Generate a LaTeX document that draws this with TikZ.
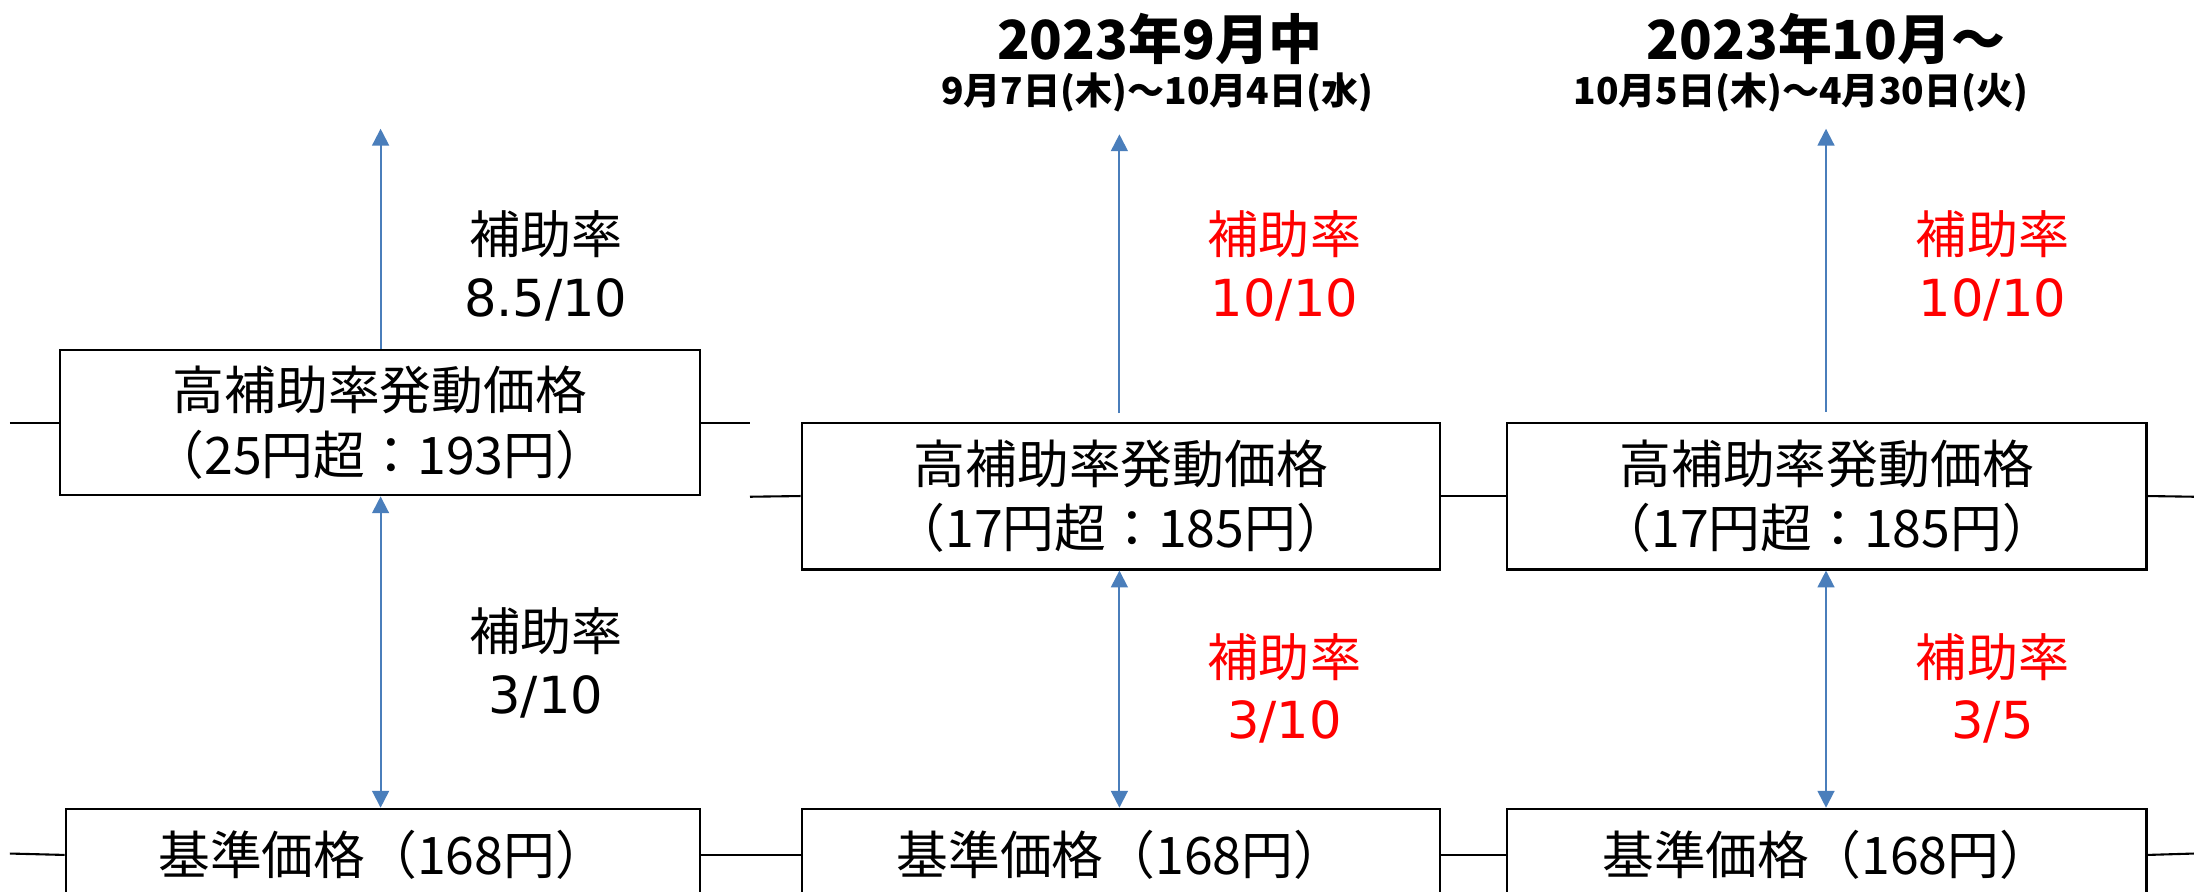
\documentclass[tikz,border=0pt]{standalone}
\usepackage{fontspec}
\newfontfamily\cjk{Noto Sans CJK JP}
\newfontfamily\lat{DejaVu Sans}
\usetikzlibrary{arrows.meta}
\definecolor{arrowblue}{HTML}{4A7EBB}
\definecolor{rred}{HTML}{FF0000}
\tikzset{
  pricebox/.style={draw=black, line width=1.5pt, fill=white, align=center, inner sep=0pt,
    font=\cjk\fontsize{37}{46}\selectfont},
  sideline/.style={draw=black, line width=1.5pt},
  uparrow/.style={draw=arrowblue, line width=1.4pt, -{Triangle[width=12pt,length=12pt]}},
  biarrow/.style={draw=arrowblue, line width=1.4pt, {Triangle[width=12pt,length=12pt]}-{Triangle[width=12pt,length=12pt]}},
  ratelabel/.style={align=center, font=\cjk\fontsize{36.5}{45}\selectfont},
  redlabel/.style={ratelabel, text=rred},
  titlebig/.style={font=\cjk\bfseries\fontsize{38.5}{40}\selectfont},
  titlesmall/.style={font=\cjk\bfseries\fontsize{26.5}{28}\selectfont}
}
\begin{document}
\begin{tikzpicture}[x=1pt,y=-1pt]
\clip (0,0) rectangle (1568,637);
\fill[white] (0,0) rectangle (1568,637);

% boxes
\node[pricebox, minimum width=457pt, minimum height=104pt] (h1) at (271.5,302) {高補助率発動価格\\（25円超：193円）};
\node[pricebox, minimum width=456pt, minimum height=105pt] (h2) at (801,354.5) {高補助率発動価格\\（17円超：185円）};
\node[pricebox, minimum width=457pt, minimum height=105pt] (h3) at (1305.5,354.5) {高補助率発動価格\\（17円超：185円）};
\node[pricebox, minimum width=453pt, minimum height=66pt] (b1) at (273.5,611) {基準価格（168円）};
\node[pricebox, minimum width=456pt, minimum height=66pt] (b2) at (801,611) {基準価格（168円）};
\node[pricebox, minimum width=457pt, minimum height=66pt] (b3) at (1305.5,611) {基準価格（168円）};

% side line ends
\coordinate (l1) at (7,302);
\coordinate (r1) at (536,302);
\coordinate (l2) at (536,355);
\coordinate (r3) at (1568,355);
\coordinate (lb) at (7,610);
\coordinate (rb) at (1568,610);

\draw[sideline] (l1) -- (h1.west);
\draw[sideline] (h1.east) -- (r1);
\draw[sideline] (l2) -- (h2.west);
\draw[sideline] (h2.east) -- (h3.west);
\draw[sideline] (h3.east) -- (r3);
\draw[sideline] (lb) -- (b1.west);
\draw[sideline] (b1.east) -- (b2.west);
\draw[sideline] (b2.east) -- (b3.west);
\draw[sideline] (b3.east) -- (rb);

% up arrows
\coordinate (t1) at (272,92);
\coordinate (t2) at (800,96);
\coordinate (t3) at (1305,92);
\draw[uparrow] (h1.north -| t1) -- (t1);
\draw[uparrow, shorten <=6pt] (h2.north -| t2) -- (t2);
\draw[uparrow, shorten <=7pt] (h3.north -| t3) -- (t3);

% double arrows
\draw[biarrow] (h1.south -| t1) -- (b1.north -| t1);
\draw[biarrow] (h2.south -| t2) -- (b2.north -| t2);
\draw[biarrow] (h3.south -| t3) -- (b3.north -| t3);

% labels
\node[ratelabel] (a1) at (390,190) {補助率\\{\lat 8.5/10}};
\node[ratelabel] (a2) at (390,474) {補助率\\{\lat 3/10}};
\node[redlabel] (a3) at (918,190) {補助率\\{\lat 10/10}};
\node[redlabel] (a4) at (918,492) {補助率\\{\lat 3/10}};
\node[redlabel] (a5) at (1424,190) {補助率\\{\lat 10/10}};
\node[redlabel] (a6) at (1424,492) {補助率\\{\lat 3/5}};

% titles
\node[titlebig] (ti2) at (829,28) {2023年9月中};
\node[titlesmall] (su2) at (827,66) {9月7日(木)～10月4日(水)};
\node[titlebig] (ti3) at (1305,28) {2023年10月～};
\node[titlesmall] (su3) at (1287,66) {10月5日(木)～4月30日(火)};
\end{tikzpicture}
\end{document}
